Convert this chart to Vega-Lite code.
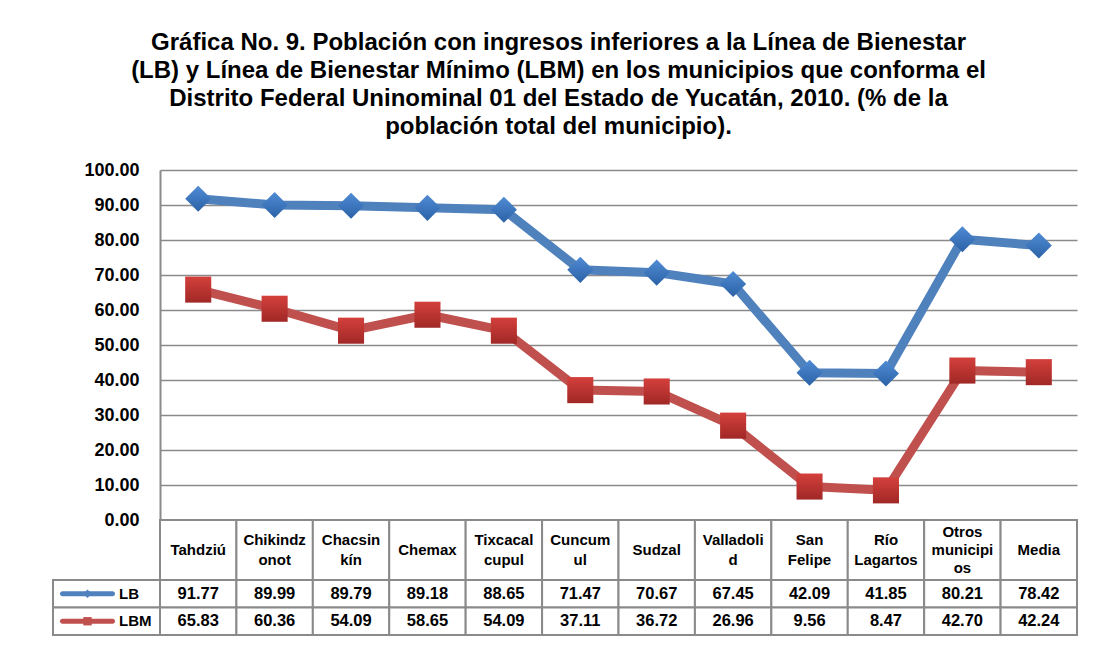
{
  "$schema": "https://vega.github.io/schema/vega-lite/v6.json",
  "width": 917,
  "height": 465,
  "autosize": {"type": "none"},
  "padding": {"left": 160, "top": 170, "right": 17, "bottom": 10},
  "background": "white",
  "config": {"view": {"stroke": null}, "font": "Liberation Sans"},
  "title": {
    "text": [
      "Gráfica No. 9. Población con ingresos inferiores a la Línea de Bienestar",
      "(LB) y Línea de Bienestar Mínimo (LBM) en los municipios que conforma el",
      "Distrito Federal Uninominal 01 del Estado de Yucatán, 2010. (% de la",
      "población total del municipio)."
    ],
    "anchor": "middle",
    "font": "Liberation Sans",
    "fontSize": 24,
    "fontWeight": "bold",
    "color": "black",
    "lineHeight": 28,
    "dx": -60,
    "offset": 22
  },
  "datasets": {
    "d": [
      {"municipio": "Tahdziú", "encabezado": "Tahdziú", "serie": "LB", "valor": 91.77},
      {"municipio": "Chikindzonot", "encabezado": "Chikindz\nonot", "serie": "LB", "valor": 89.99},
      {"municipio": "Chacsinkín", "encabezado": "Chacsin\nkín", "serie": "LB", "valor": 89.79},
      {"municipio": "Chemax", "encabezado": "Chemax", "serie": "LB", "valor": 89.18},
      {"municipio": "Tixcacalcupul", "encabezado": "Tixcacal\ncupul", "serie": "LB", "valor": 88.65},
      {"municipio": "Cuncumul", "encabezado": "Cuncum\nul", "serie": "LB", "valor": 71.47},
      {"municipio": "Sudzal", "encabezado": "Sudzal", "serie": "LB", "valor": 70.67},
      {"municipio": "Valladolid", "encabezado": "Valladoli\nd", "serie": "LB", "valor": 67.45},
      {"municipio": "San Felipe", "encabezado": "San\nFelipe", "serie": "LB", "valor": 42.09},
      {"municipio": "Río Lagartos", "encabezado": "Río\nLagartos", "serie": "LB", "valor": 41.85},
      {"municipio": "Otros municipios", "encabezado": "Otros\nmunicipi\nos", "serie": "LB", "valor": 80.21},
      {"municipio": "Media", "encabezado": "Media", "serie": "LB", "valor": 78.42},
      {"municipio": "Tahdziú", "encabezado": "Tahdziú", "serie": "LBM", "valor": 65.83},
      {"municipio": "Chikindzonot", "encabezado": "Chikindz\nonot", "serie": "LBM", "valor": 60.36},
      {"municipio": "Chacsinkín", "encabezado": "Chacsin\nkín", "serie": "LBM", "valor": 54.09},
      {"municipio": "Chemax", "encabezado": "Chemax", "serie": "LBM", "valor": 58.65},
      {"municipio": "Tixcacalcupul", "encabezado": "Tixcacal\ncupul", "serie": "LBM", "valor": 54.09},
      {"municipio": "Cuncumul", "encabezado": "Cuncum\nul", "serie": "LBM", "valor": 37.11},
      {"municipio": "Sudzal", "encabezado": "Sudzal", "serie": "LBM", "valor": 36.72},
      {"municipio": "Valladolid", "encabezado": "Valladoli\nd", "serie": "LBM", "valor": 26.96},
      {"municipio": "San Felipe", "encabezado": "San\nFelipe", "serie": "LBM", "valor": 9.56},
      {"municipio": "Río Lagartos", "encabezado": "Río\nLagartos", "serie": "LBM", "valor": 8.47},
      {"municipio": "Otros municipios", "encabezado": "Otros\nmunicipi\nos", "serie": "LBM", "valor": 42.70},
      {"municipio": "Media", "encabezado": "Media", "serie": "LBM", "valor": 42.24}
    ]
  },
  "data": {"name": "d"},
  "layer": [
    {
      "encoding": {
        "x": {"field": "municipio", "type": "nominal", "sort": null, "scale": {"type": "band", "paddingInner": 0, "paddingOuter": 0}, "axis": null},
        "y": {
          "field": "valor", "type": "quantitative",
          "scale": {"domain": [0, 100], "range": [350, 0], "nice": false, "zero": false},
          "axis": {
            "values": [0, 10, 20, 30, 40, 50, 60, 70, 80, 90, 100],
            "format": ".2f", "title": null,
            "grid": true, "gridColor": "#8a8a8a", "gridWidth": 1.5,
            "domain": true, "domainColor": "#8a8a8a", "domainWidth": 2,
            "ticks": false, "labelPadding": 21,
            "labelFont": "Liberation Sans", "labelFontSize": 18, "labelFontWeight": "bold", "labelColor": "black"
          }
        }
      },
      "layer": [
        {
          "mark": {"type": "line", "strokeWidth": 9, "strokeJoin": "round"},
          "encoding": {"color": {"field": "serie", "type": "nominal", "scale": {"domain": ["LB", "LBM"], "range": ["#4F81BD", "#C0504D"]}, "legend": null}}
        },
        {
          "transform": [{"filter": "datum.serie === 'LB'"}],
          "mark": {"type": "point", "shape": "diamond", "filled": true, "size": 680, "opacity": 1,
            "fill": {"gradient": "linear", "x1": 0, "y1": 0, "x2": 0, "y2": 1, "stops": [{"offset": 0, "color": "#4f8bd4"}, {"offset": 1, "color": "#2c62a6"}]}}
        },
        {
          "transform": [{"filter": "datum.serie === 'LBM'"}],
          "mark": {"type": "point", "shape": "square", "filled": true, "size": 680, "opacity": 1,
            "fill": {"gradient": "linear", "x1": 0, "y1": 0, "x2": 0, "y2": 1, "stops": [{"offset": 0, "color": "#d4403c"}, {"offset": 1, "color": "#a02826"}]}}
        }
      ]
    },
    {
      "transform": [{"filter": "datum.serie === 'LB'"}],
      "encoding": {
        "x": {"field": "municipio", "type": "nominal", "sort": null, "scale": {"type": "band", "paddingInner": 0, "paddingOuter": 0}, "axis": null},
        "y": {"datum": "Municipio", "type": "nominal", "scale": {"type": "band", "domain": ["Municipio"], "range": [350, 410], "paddingInner": 0, "paddingOuter": 0}, "axis": null}
      },
      "layer": [
        {"mark": {"type": "rect", "fill": "white", "stroke": "#8a8a8a", "strokeWidth": 2}},
        {
          "transform": [{"filter": "split(datum.encabezado, '\\n').length === 1"}],
          "mark": {"type": "text", "font": "Liberation Sans", "fontSize": 15, "fontWeight": "bold", "color": "black", "lineBreak": "\n", "lineHeight": 19, "baseline": "middle", "align": "center"},
          "encoding": {"text": {"field": "encabezado"}}
        },
        {
          "transform": [{"filter": "split(datum.encabezado, '\\n').length === 2"}],
          "mark": {"type": "text", "font": "Liberation Sans", "fontSize": 15, "fontWeight": "bold", "color": "black", "lineBreak": "\n", "lineHeight": 20, "baseline": "middle", "align": "center", "dy": -10},
          "encoding": {"text": {"field": "encabezado"}}
        },
        {
          "transform": [{"filter": "split(datum.encabezado, '\\n').length === 3"}],
          "mark": {"type": "text", "font": "Liberation Sans", "fontSize": 15, "fontWeight": "bold", "color": "black", "lineBreak": "\n", "lineHeight": 18, "baseline": "middle", "align": "center", "dy": -18},
          "encoding": {"text": {"field": "encabezado"}}
        }
      ]
    },
    {
      "encoding": {
        "x": {"field": "municipio", "type": "nominal", "sort": null, "scale": {"type": "band", "paddingInner": 0, "paddingOuter": 0}, "axis": null},
        "y": {"field": "serie", "type": "nominal", "scale": {"type": "band", "domain": ["LB", "LBM"], "range": [410, 465], "paddingInner": 0, "paddingOuter": 0}, "axis": null}
      },
      "layer": [
        {"mark": {"type": "rect", "fill": "white", "stroke": "#8a8a8a", "strokeWidth": 2}},
        {
          "mark": {"type": "text", "font": "Liberation Sans", "fontSize": 16.5, "fontWeight": "bold", "color": "black", "baseline": "middle", "align": "center"},
          "encoding": {"text": {"field": "valor", "type": "quantitative", "format": ".2f"}}
        }
      ]
    },
    {
      "transform": [{"filter": "datum.municipio === 'Tahdziú'"}],
      "encoding": {
        "x": {"datum": "Serie", "type": "nominal", "scale": {"type": "band", "domain": ["Serie"], "range": [-107, 0], "paddingInner": 0, "paddingOuter": 0}, "axis": null},
        "y": {"field": "serie", "type": "nominal", "scale": {"type": "band", "domain": ["LB", "LBM"], "range": [410, 465], "paddingInner": 0, "paddingOuter": 0}, "axis": null}
      },
      "layer": [
        {"mark": {"type": "rect", "fill": "white", "stroke": "#8a8a8a", "strokeWidth": 2}},
        {
          "mark": {"type": "bar", "width": 55, "height": 5, "xOffset": -19, "cornerRadius": 2.5},
          "encoding": {"color": {"field": "serie", "type": "nominal", "legend": null}}
        },
        {
          "mark": {"type": "point", "filled": true, "opacity": 1, "size": 70, "xOffset": -19},
          "encoding": {
            "color": {"field": "serie", "type": "nominal", "legend": null},
            "shape": {"field": "serie", "type": "nominal", "scale": {"domain": ["LB", "LBM"], "range": ["diamond", "square"]}, "legend": null}
          }
        },
        {
          "mark": {"type": "text", "font": "Liberation Sans", "fontSize": 15, "fontWeight": "bold", "color": "black", "baseline": "middle", "align": "left", "dx": 12.5},
          "encoding": {"text": {"field": "serie"}}
        }
      ]
    }
  ],
  "resolve": {"scale": {"x": "independent", "y": "independent"}, "axis": {"x": "independent", "y": "independent"}}
}
